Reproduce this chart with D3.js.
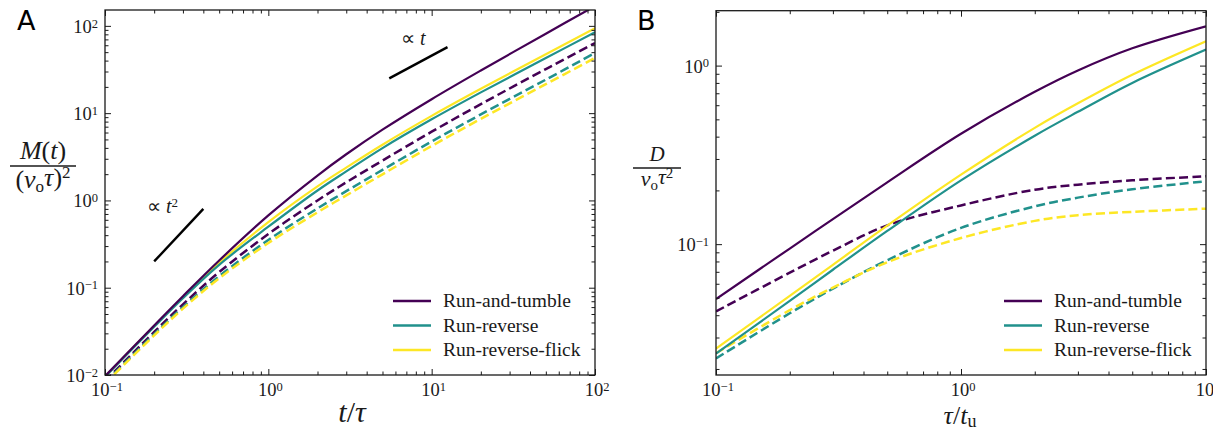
<!DOCTYPE html>
<html><head><meta charset="utf-8">
<script src="https://cdn.jsdelivr.net/npm/d3@7"></script>
<style>body{margin:0;background:#fff}svg{display:block}</style>
</head><body>
<svg id="chart" width="1224" height="432"></svg>
<script>
// ---------------- data ----------------
const seriesNames = ["Run-and-tumble", "Run-reverse", "Run-reverse-flick"];
const seriesColors = ["#440154", "#21918c", "#fde725"];

// Panel A : M(t)/(v0 tau)^2 versus t/tau
const tA = [0.1, 0.2, 0.3, 0.5, 1, 2, 3, 5, 10, 20, 50, 100];
const mSolidRT  = [0.0097, 0.037, 0.080, 0.205, 0.674, 1.93, 3.38, 6.47, 14.45, 30.8, 81.4, 168.5];
const mSolidRR  = [0.0095, 0.0357, 0.0759, 0.183, 0.50, 1.30, 2.15, 3.98, 8.5, 17.3, 42.8, 84.5];
const mSolidRRF = [0.0096, 0.0363, 0.0778, 0.193, 0.565, 1.45, 2.38, 4.35, 9.3, 19.0, 47.3, 94];
const mDashRT   = [0.0085, 0.0311, 0.0645, 0.151, 0.412, 1.0, 1.613, 2.86, 6.13, 12.69, 32.0, 63.6];
const mDashRR   = [0.0082, 0.0294, 0.0599, 0.1357, 0.353, 0.811, 1.277, 2.24, 4.735, 9.67, 24.2, 49.0];
const mDashRRF  = [0.008, 0.0284, 0.0576, 0.1284, 0.325, 0.731, 1.142, 1.993, 4.21, 8.6, 21.5, 43.0];

// Panel B : D/(v0 tau^2) versus tau/t_u
const tauB = [0.1, 0.2, 0.3, 0.5, 1, 2, 3, 5, 10];
const dSolidRT  = [0.0493, 0.0945, 0.138, 0.222, 0.415, 0.713, 0.939, 1.25, 1.66];
const dSolidRR  = [0.0244, 0.0481, 0.0719, 0.1186, 0.2276, 0.405, 0.551, 0.80, 1.23];
const dSolidRRF = [0.026, 0.0513, 0.0766, 0.127, 0.245, 0.448, 0.615, 0.889, 1.37];
const dDashRT   = [0.042, 0.0692, 0.0919, 0.1275, 0.1648, 0.2018, 0.2153, 0.2278, 0.2399];
const dDashRR   = [0.0229, 0.041, 0.0563, 0.0813, 0.1233, 0.1627, 0.1822, 0.2028, 0.2251];
const dDashRRF  = [0.0245, 0.0427, 0.0571, 0.0792, 0.1082, 0.135, 0.1453, 0.1517, 0.158];

// tick labels (base 10, exponent)
const xTicksA = [0.1, 1, 10, 100];
const xTickExpA = ["\u22121", "0", "1", "2"];
const yTicksA = [0.01, 0.1, 1, 10, 100];
const yTickExpA = ["\u22122", "\u22121", "0", "1", "2"];
const xTicksB = [0.1, 1, 10];
const xTickExpB = ["\u22121", "0", "1"];
const yTicksB = [0.1, 1];
const yTickExpB = ["\u22121", "0"];

// slope guides (data coordinates)
const guideT2 = [[0.2, 0.2], [0.4, 0.8]];
const guideT1 = [[5.5, 25], [12.5, 57]];

// ---------------- drawing ----------------
const svg = d3.select("#chart");
const serif = "'Liberation Serif', 'Times New Roman', serif";
const ink = "#1a1a1a";

function makePanel(cfg) {
  const x = d3.scaleLog().domain(cfg.xDomain).range([cfg.left, cfg.right]);
  const y = d3.scaleLog().domain(cfg.yDomain).range([cfg.bottom, cfg.top]);
  const g = svg.append("g");

  const clipId = "clip" + cfg.id;
  svg.append("clipPath").attr("id", clipId).append("rect")
    .attr("x", cfg.left).attr("y", cfg.top)
    .attr("width", cfg.right - cfg.left).attr("height", cfg.bottom - cfg.top);

  // curves
  const line = d3.line().x(d => x(d[0])).y(d => y(d[1])).curve(d3.curveCatmullRom.alpha(0.5));
  const cg = g.append("g").attr("clip-path", `url(#${clipId})`);
  cfg.dashed.forEach((vals, i) => {
    cg.append("path").datum(cfg.xs.map((v, k) => [v, vals[k]]))
      .attr("d", line).attr("fill", "none").attr("stroke", seriesColors[i])
      .attr("stroke-width", 2.5).attr("stroke-dasharray", "9,4.2");
  });
  [2, 1, 0].forEach(i => {
    const vals = cfg.solid[i];
    cg.append("path").datum(cfg.xs.map((v, k) => [v, vals[k]]))
      .attr("d", line).attr("fill", "none").attr("stroke", seriesColors[i])
      .attr("stroke-width", 2.2);
  });

  // ticks, inward on all four sides
  const isMajor = v => Math.abs(Math.log10(v) - Math.round(Math.log10(v))) < 1e-9;
  const xt = x.ticks(), yt = y.ticks();
  const xMaj = xt.filter(isMajor), xMin = xt.filter(v => !isMajor(v));
  const yMaj = yt.filter(isMajor), yMin = yt.filter(v => !isMajor(v));
  const axes = [
    [d3.axisBottom, x, `translate(0,${cfg.bottom})`, xMaj, xMin],
    [d3.axisTop, x, `translate(0,${cfg.top})`, xMaj, xMin],
    [d3.axisLeft, y, `translate(${cfg.left},0)`, yMaj, yMin],
    [d3.axisRight, y, `translate(${cfg.right},0)`, yMaj, yMin]
  ];
  axes.forEach(([fn, sc, tr, maj, mn]) => {
    [[maj, 6], [mn, 3.5]].forEach(([vals, len]) => {
      const ag = g.append("g").attr("transform", tr).attr("color", ink)
        .call(fn(sc).tickValues(vals).tickSize(-len).tickFormat(""));
      ag.select(".domain").remove();
      ag.selectAll("line").attr("stroke-width", 1);
    });
  });

  // frame
  g.append("rect").attr("x", cfg.left).attr("y", cfg.top)
    .attr("width", cfg.right - cfg.left).attr("height", cfg.bottom - cfg.top)
    .attr("fill", "none").attr("stroke", ink).attr("stroke-width", 1.3);

  // tick labels
  function pow10(sel, exp) {
    sel.append("tspan").text("10");
    sel.append("tspan").attr("dy", "-0.42em").attr("font-size", "12.5px").text(exp);
  }
  const xl = g.append("g");
  if (cfg.clipLabelsRight) {
    svg.append("clipPath").attr("id", "lab" + cfg.id).append("rect")
      .attr("x", 0).attr("y", 0).attr("width", cfg.clipLabelsRight).attr("height", 432);
    xl.attr("clip-path", `url(#lab${cfg.id})`);
  }
  cfg.xTicks.forEach((v, i) => {
    const t = xl.append("text").attr("x", x(v) + 2).attr("y", cfg.bottom + 21)
      .attr("text-anchor", "middle").attr("font-family", serif).attr("font-size", "18.5px").attr("fill", ink);
    pow10(t, cfg.xExp[i]);
  });
  cfg.yTicks.forEach((v, i) => {
    const t = g.append("text").attr("x", cfg.left - 7).attr("y", y(v) + 7)
      .attr("text-anchor", "end").attr("font-family", serif).attr("font-size", "18.5px").attr("fill", ink);
    pow10(t, cfg.yExp[i]);
  });

  // legend
  const lg = g.append("g");
  seriesNames.forEach((name, i) => {
    const yy = cfg.legendY + i * 24.5;
    lg.append("line").attr("x1", cfg.legendX).attr("x2", cfg.legendX + 38)
      .attr("y1", yy).attr("y2", yy).attr("stroke", seriesColors[i]).attr("stroke-width", 2.3);
    lg.append("text").attr("x", cfg.legendX + 50).attr("y", yy + 6)
      .attr("font-family", serif).attr("font-size", "19.5px").attr("fill", ink).text(name);
  });

  // panel letter
  g.append("text").attr("x", cfg.letterX).attr("y", 30)
    .attr("font-family", "'DejaVu Sans', sans-serif").attr("font-size", "27px").attr("fill", "#000")
    .text(cfg.letter);

  return { x, y, g };
}

// Panel A
const A = makePanel({
  id: "A", letter: "A", letterX: 17,
  left: 105, right: 595, top: 10, bottom: 375,
  xDomain: [0.1, 100], yDomain: [0.01, 152],
  xs: tA,
  solid: [mSolidRT, mSolidRR, mSolidRRF],
  dashed: [mDashRT, mDashRR, mDashRRF],
  xTicks: xTicksA, xExp: xTickExpA, yTicks: yTicksA, yExp: yTickExpA,
  legendX: 393, legendY: 301
});

// Panel B
const B = makePanel({
  id: "B", letter: "B", letterX: 637,
  left: 716, right: 1206, top: 10.7, bottom: 375,
  xDomain: [0.1, 10], yDomain: [0.0185, 2.03],
  xs: tauB,
  solid: [dSolidRT, dSolidRR, dSolidRRF],
  dashed: [dDashRT, dDashRR, dDashRRF],
  xTicks: xTicksB, xExp: xTickExpB, yTicks: yTicksB, yExp: yTickExpB,
  legendX: 1004, legendY: 301, clipLabelsRight: 1213
});

// slope guides
const guideLine = (P) => d3.line().x(d => P.x(d[0])).y(d => P.y(d[1]));
A.g.append("path").datum(guideT2).attr("d", guideLine(A)).attr("stroke", "#000").attr("stroke-width", 2.4).attr("fill", "none");
A.g.append("path").datum(guideT1).attr("d", guideLine(A)).attr("stroke", "#000").attr("stroke-width", 2.4).attr("fill", "none");

const ann1 = A.g.append("text").attr("x", 147).attr("y", 213).attr("font-family", serif).attr("font-size", "20px").attr("fill", ink);
ann1.append("tspan").text("\u221D ");
ann1.append("tspan").attr("font-style", "italic").text("t");
ann1.append("tspan").attr("dy", "-0.45em").attr("font-size", "13px").text("2");
const ann2 = A.g.append("text").attr("x", 401).attr("y", 45).attr("font-family", serif).attr("font-size", "20px").attr("fill", ink);
ann2.append("tspan").text("\u221D ");
ann2.append("tspan").attr("font-style", "italic").text("t");

// axis labels
function txt(x, y, size, anchor) {
  return svg.append("text").attr("x", x).attr("y", y).attr("font-family", serif)
    .attr("font-size", size + "px").attr("text-anchor", anchor || "middle").attr("fill", ink);
}
// A x label: t/τ
let t1 = txt(352, 422, 30);
t1.append("tspan").attr("font-style", "italic").text("t");
t1.append("tspan").text("/");
t1.append("tspan").attr("font-style", "italic").text("\u03C4");
// B x label: τ/t_u
let t2 = txt(960, 424, 26);
t2.append("tspan").attr("font-style", "italic").text("\u03C4");
t2.append("tspan").text("/");
t2.append("tspan").attr("font-style", "italic").text("t");
t2.append("tspan").attr("dy", "0.15em").attr("font-size", "18px").text("u");

// A y label: M(t) / (v_o τ)^2
let n1 = txt(43, 159, 26);
n1.append("tspan").attr("font-style", "italic").text("M");
n1.append("tspan").text("(");
n1.append("tspan").attr("font-style", "italic").text("t");
n1.append("tspan").text(")");
svg.append("line").attr("x1", 10).attr("x2", 76).attr("y1", 166).attr("y2", 166).attr("stroke", ink).attr("stroke-width", 1.4);
let d1 = txt(43, 188, 26);
d1.append("tspan").text("(");
d1.append("tspan").attr("font-style", "italic").text("v");
d1.append("tspan").attr("dy", "0.25em").attr("font-size", "17px").text("o");
d1.append("tspan").attr("dy", "-0.25em").attr("font-style", "italic").text("\u03C4");
d1.append("tspan").text(")");
d1.append("tspan").attr("dy", "-0.45em").attr("font-size", "17px").text("2");

// B y label: D / (v_o τ^2)
let n2 = txt(657, 161, 21);
n2.append("tspan").attr("font-style", "italic").text("D");
svg.append("line").attr("x1", 633).attr("x2", 681).attr("y1", 168).attr("y2", 168).attr("stroke", ink).attr("stroke-width", 1.3);
let d2 = txt(657, 186, 22);
d2.append("tspan").attr("font-style", "italic").text("v");
d2.append("tspan").attr("dy", "0.25em").attr("font-size", "15px").text("o");
d2.append("tspan").attr("dy", "-0.25em").attr("font-style", "italic").text("\u03C4");
d2.append("tspan").attr("dy", "-0.4em").attr("font-size", "15px").text("2");
</script>
</body></html>
